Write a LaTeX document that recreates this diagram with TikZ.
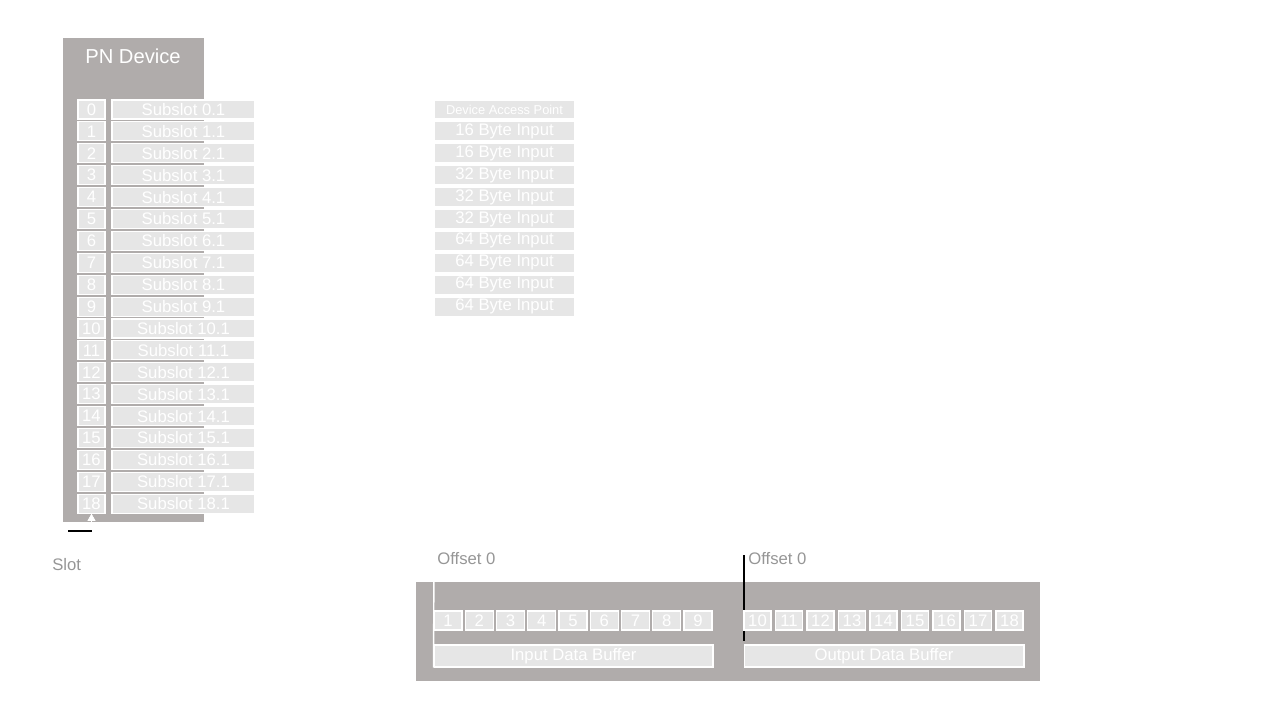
\documentclass[tikz,border=0pt]{standalone}
\usepackage{fontspec}
\setmainfont{Liberation Sans}
\usetikzlibrary{positioning, arrows.meta}
\definecolor{panelgray}{RGB}{176,172,171}
\definecolor{cellgray}{RGB}{230,230,230}
\definecolor{labelgray}{RGB}{150,150,150}

\begin{document}
\begin{tikzpicture}[x=0.02cm, y=-0.02cm,
		cell/.style={draw=white, fill=cellgray, line width=0.6pt, inner sep=0pt,
			minimum height=0.38cm, text=white, font=\fontsize{9.5}{11}\selectfont},
		slotcell/.style={cell, minimum width=0.54cm},
		subcell/.style={cell, minimum width=2.86cm},
		modcell/.style={cell, minimum width=2.82cm},
		bytecell/.style={cell, minimum width=0.55cm},
		bufcell/.style={cell, minimum height=0.44cm, minimum width=5.58cm},
		outlabel/.style={text=labelgray, inner sep=0pt, anchor=west,
			font=\fontsize{9.5}{11}\selectfont},
		]
		\useasboundingbox (0,0) rectangle (1280,720);
		
		%% ── PN DEVICE ──────────────────────────────────────────
		\fill[panelgray] (63,38) rectangle (204,522);
		\node[text=white, font=\fontsize{11.5}{13}\selectfont] (pndev) at (133,56) {PN Device};
		
		\foreach \i in {0,...,18} {
			\node[slotcell] (slot\i) at ({91.5},{109.5+21.9*\i}) {\i};
			\node[subcell]  (sub\i)  at ({183.5},{109.5+21.9*\i}) {Subslot \i.1};
		}
		
		% modules
		\node[modcell, font=\fontsize{7.3}{9}\selectfont] (mod0) at (504.5,109.5) {Device Access Point};
		\foreach \i/\n in {1/16, 2/16, 3/32, 4/32, 5/32, 6/64, 7/64, 8/64, 9/64} {
			\node[modcell] (mod\i) at ({504.5},{109.5+21.9*\i}) {\n{} Byte Input};
		}
		
		% slot
		\coordinate (slottip) at (91.5,522);
		\draw[white, -{Triangle[width=4.5pt, length=4pt]}] (slottip) -- (slot18.south);
		\coordinate (slotA) at (68,531);
		\coordinate (slotB) at (92,531);
		\draw[black, line width=0.6pt] (slotA) -- (slotB);
		\node[outlabel] (slotlbl) at (52,565) {Slot};
		
		%% ── DATA BUFFERS ───────────────────────────────────────
		\fill[panelgray] (416,582) rectangle (1040,681);
		
		\coordinate (offouttop) at (744,555);
		\coordinate (offoutbot) at (744,641);
		\draw[black, line width=0.6pt] (offouttop) -- (offoutbot);
		
		\foreach \k in {1,...,9} {
			\node[bytecell, minimum width=0.56cm] (in\k) at ({448+31.25*(\k-1)},620.5) {\k};
		}
		\foreach \k in {10,...,18} {
			\node[bytecell, minimum width=0.54cm] (out\k) at ({757.5+31.5*(\k-10)},620.5) {\k};
		}
		\node[bufcell] (inbuf) at (573.5,656) {Input Data Buffer};
		\node[bufcell, minimum width=5.6cm] (outbuf) at (884,656) {Output Data Buffer};
		
		% offsets
		\node[outlabel] (offin)  at (437,559) {Offset 0};
		\node[outlabel] (offout) at (748,559) {Offset 0};
		\coordinate (offintop) at (434,555);
		\draw[white, line width=0.8pt] (offintop) -- (inbuf.south west);
		
	\end{tikzpicture}
\end{document}
